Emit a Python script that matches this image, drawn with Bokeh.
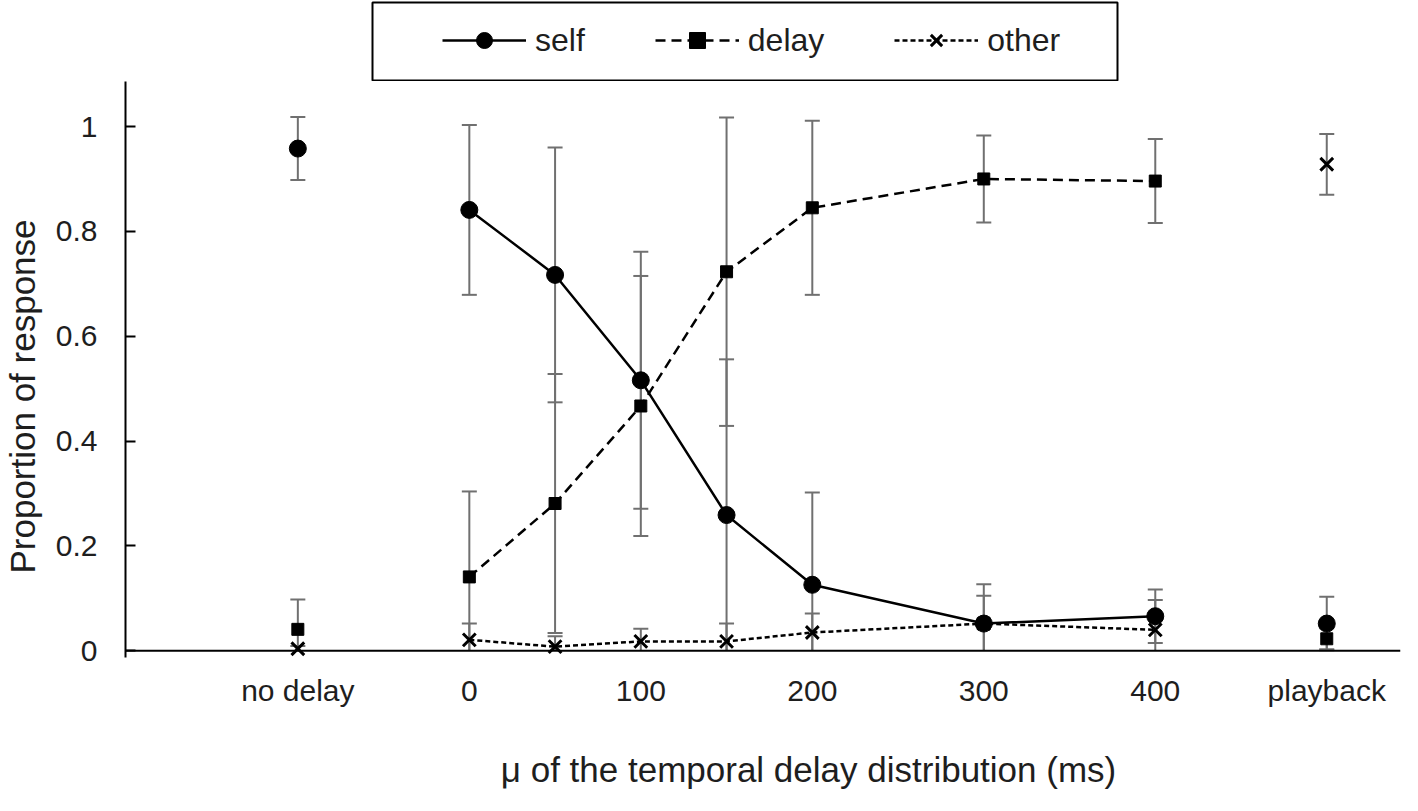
import numpy as np
from bokeh.plotting import figure
from bokeh.layouts import column, row
from bokeh.models import (Range1d, FixedTicker, Span, Label, Legend, LegendItem,
                          BoxAnnotation)
from bokeh.embed import file_html
from bokeh.resources import INLINE

# ---------------- data ----------------
conditions = ["no delay", "0", "50", "100", "150", "200", "300", "400", "playback"]
mu_pos = [-100, 0, 50, 100, 150, 200, 300, 400, 500]   # "no delay" and "playback" placed at ends
tick_values = [-100, 0, 100, 200, 300, 400, 500]
tick_labels = ["no delay", "0", "100", "200", "300", "400", "playback"]

self_mean = [0.958, 0.841, 0.717, 0.516, 0.259, 0.126, 0.052, 0.066, 0.052]
self_err = [0.060, 0.162, 0.243, 0.245, 0.297, 0.176, 0.075, 0.051, 0.051]
delay_mean = [0.041, 0.141, 0.281, 0.467, 0.723, 0.845, 0.900, 0.896, 0.023]
delay_err = [0.057, 0.163, 0.247, 0.248, 0.294, 0.166, 0.083, 0.080, 0.020]
other_mean = [0.004, 0.021, 0.008, 0.018, 0.018, 0.035, 0.052, 0.040, 0.928]
other_err = [0.005, 0.031, 0.020, 0.024, 0.034, 0.036, 0.053, 0.057, 0.058]

FONT = "Liberation Sans"
TXT = "#1e1e1e"
ERR_COLOR = "#707070"

TOTAL_W = 1402
LEG_H = 81
YLAB_W = 50
MAIN_W = TOTAL_W - YLAB_W
MAIN_H = 644
XLAB_H = 70

STYLES = {
    "self": dict(dash="solid", marker="circle", size=17, mlw=1),
    "delay": dict(dash="10 6", marker="square", size=12, mlw=1),
    "other": dict(dash="5 3", marker="x", size=18, mlw=3),
}
inner = slice(1, 8)  # the μ conditions 0..400 are connected by lines


def add_series(fig, name, mean):
    st = STYLES[name]
    ln = fig.line(mu_pos[inner], mean[inner], line_color="black", line_width=2.5,
                  line_dash=st["dash"])
    sc = fig.scatter(mu_pos, mean, marker=st["marker"], size=st["size"],
                     fill_color="black", line_color="black", line_width=st["mlw"])
    return ln, sc


p = figure(width=MAIN_W, height=MAIN_H, output_backend="svg", toolbar_location=None,
           x_range=Range1d(-200.5, 543), y_range=Range1d(-0.0127, 1.0859),
           min_border_left=75, min_border_right=2, min_border_top=0,
           min_border_bottom=68)
p.grid.visible = False
p.outline_line_color = None

# axes
p.xaxis.ticker = FixedTicker(ticks=tick_values)
p.xaxis.major_label_overrides = {v: l for v, l in zip(tick_values, tick_labels)}
p.xaxis.axis_line_color = None
p.xaxis.major_tick_line_color = None
p.xaxis.minor_tick_line_color = None
p.xaxis.major_label_standoff = 10
p.yaxis.ticker = FixedTicker(ticks=[0, 0.2, 0.4, 0.6, 0.8, 1.0])
p.yaxis.major_label_overrides = {0: "0", 1: "1"}
p.yaxis.axis_line_color = "black"
p.yaxis.axis_line_width = 2
p.yaxis.major_tick_in = 10
p.yaxis.major_tick_out = 0
p.yaxis.major_tick_line_width = 2
p.yaxis.minor_tick_line_color = None
p.yaxis.major_label_standoff = 28
for ax in (p.xaxis, p.yaxis):
    ax.major_label_text_font = FONT
    ax.major_label_text_font_size = "30px"
    ax.major_label_text_color = TXT

p.add_layout(Span(location=0, dimension="width", line_color="black", line_width=2))

# ---------------- error bars ----------------
all_x, all_lo, all_hi = [], [], []
for m, e in ((self_mean, self_err), (delay_mean, delay_err), (other_mean, other_err)):
    for x, mv, ev in zip(mu_pos, m, e):
        all_x.append(x)
        all_lo.append(mv - ev)
        all_hi.append(mv + ev)
all_x = np.array(all_x, dtype=float)
all_lo = np.array(all_lo)
all_hi = np.array(all_hi)
stem_lo = np.maximum(all_lo, 0.0)
p.segment(x0=all_x, y0=stem_lo, x1=all_x, y1=all_hi, line_color=ERR_COLOR, line_width=2)
p.scatter(x=all_x, y=all_hi, marker="dash", size=15, line_color=ERR_COLOR, line_width=2)
keep = all_lo >= 0
p.scatter(x=all_x[keep], y=all_lo[keep], marker="dash", size=15, line_color=ERR_COLOR,
          line_width=2)

# ---------------- series ----------------
add_series(p, "self", self_mean)
add_series(p, "delay", delay_mean)
add_series(p, "other", other_mean)

# ---------------- legend strip ----------------
# the legend lives in its own strip; its sample renderers are the same series,
# drawn with a view range that keeps the marks themselves off-screen
leg = figure(width=TOTAL_W, height=LEG_H, output_backend="svg", toolbar_location=None,
             x_axis_type=None, y_axis_type=None, min_border=0,
             x_range=Range1d(10000, 10001), y_range=Range1d(10000, 10001))
leg.outline_line_color = None
leg.grid.visible = False
leg.add_layout(BoxAnnotation(left=372, right=1117, bottom=1, top=79,
                             left_units="screen", right_units="screen",
                             bottom_units="screen", top_units="screen",
                             fill_color="white", fill_alpha=1.0, line_color="black",
                             line_alpha=1.0, line_width=2))
items = []
for name, mean in (("self", self_mean), ("delay", delay_mean), ("other", other_mean)):
    ln, sc = add_series(leg, name, mean)
    items.append(LegendItem(label=name, renderers=[ln, sc]))
legend = Legend(items=items, orientation="horizontal", location=(442, 21), padding=0,
                spacing=70, glyph_width=84, glyph_height=40, label_standoff=9,
                label_text_font=FONT, label_text_font_size="32px",
                label_text_color=TXT, border_line_color=None,
                background_fill_alpha=0.0, margin=0)
leg.add_layout(legend, "center")

# ---------------- axis titles (separate strips) ----------------
ylab = figure(width=YLAB_W, height=MAIN_H, output_backend="svg", toolbar_location=None,
              x_axis_type=None, y_axis_type=None, min_border=0,
              x_range=Range1d(0, 1), y_range=Range1d(0, 1))
ylab.outline_line_color = None
ylab.grid.visible = False
ylab.add_layout(Label(x=22, y=261, x_units="screen", y_units="screen",
                      text="Proportion of response", angle=np.pi / 2, text_font=FONT,
                      text_font_size="35px", text_color=TXT, text_align="center",
                      text_baseline="middle"))

xlab = figure(width=TOTAL_W, height=XLAB_H, output_backend="svg",
              toolbar_location=None, x_axis_type=None, y_axis_type=None, min_border=0,
              x_range=Range1d(0, 1), y_range=Range1d(0, 1))
xlab.outline_line_color = None
xlab.grid.visible = False
xlab.add_layout(Label(x=808, y=26, x_units="screen", y_units="screen",
                      text="μ of the temporal delay distribution (ms)", text_font=FONT,
                      text_font_size="35px", text_color=TXT, text_align="center",
                      text_baseline="middle"))

layout = column(leg, row(ylab, p, spacing=0), xlab, spacing=0)
open("out.html", "w").write(file_html(layout, INLINE))
